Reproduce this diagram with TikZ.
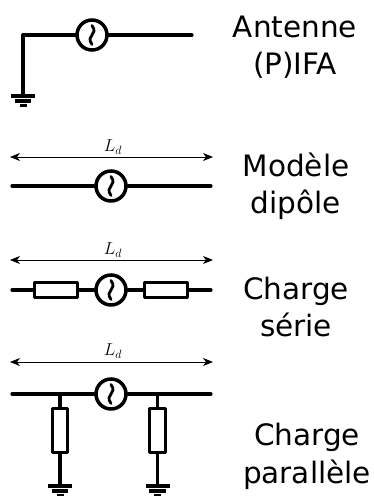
\documentclass[tikz,border=0pt]{standalone}
\usepackage{amsmath}
\usepackage{fontspec}
\setmainfont{DejaVu Sans}
\usetikzlibrary{arrows.meta}

\tikzset{
  wire/.style={line width=3.2pt,line cap=round,line join=round},
  dim/.style={{Stealth[length=10pt,width=8pt,inset=3pt]}-{Stealth[length=10pt,width=8pt,inset=3pt]},line width=0.9pt},
  gen/.style={circle,draw,line width=3.5pt,fill=white,inner sep=0pt,minimum size=30pt,
    path picture={\draw[line width=2.8pt,line cap=round]
      ([yshift=9.5pt]path picture bounding box.center)
      .. controls +(7,10) and +(-7,-10) .. ([yshift=-9.5pt]path picture bounding box.center);}},
  resh/.style={rectangle,draw,line width=3.4pt,line join=round,fill=white,inner sep=0pt,minimum width=43.5pt,minimum height=15.5pt},
  resv/.style={rectangle,draw,line width=3.4pt,line join=round,fill=white,inner sep=0pt,minimum width=15.5pt,minimum height=43.5pt},
  title/.style={align=center,font=\fontsize{29.5}{37.5}\selectfont},
  len/.style={font=\fontsize{17.28}{20}\selectfont,inner sep=0pt},
  ground/.pic={
    \draw[line width=3.6pt] (-12,0) -- (12,0);
    \draw[line width=3.6pt] (-8.3,4.8) -- (8.3,4.8);
    \draw[line width=3.6pt] (-3.5,9.6) -- (3.5,9.6);
  }
}

\begin{document}
\begin{tikzpicture}[x=1pt,y=-1pt]
  \useasboundingbox (0,0) rectangle (373,496);

  % Antenne (P)IFA
  \node[gen] (g1) at (92,35) {};
  \coordinate (c1) at (23,35);
  \coordinate (e1) at (192,35);
  \coordinate (t1) at (23,96);
  \draw[wire] (t1) -- (c1) -- (g1) -- (e1);
  \pic at (t1) {ground};
  \node[title] (n1) at (295,47) {Antenne\\(P)IFA};

  % Modele dipole
  \coordinate (a2) at (10,157);
  \coordinate (b2) at (213,157);
  \draw[dim] (a2) -- (b2);
  \node[len] (l2) at (113,147) {$L_d$};
  \node[gen] (g2) at (111,186) {};
  \coordinate (w2) at (12,186);
  \coordinate (e2) at (211,186);
  \draw[wire] (w2) -- (g2) -- (e2);
  \node[title] (n2) at (296,186.5) {Modèle\\dipôle};

  % Charge serie
  \coordinate (a3) at (10,260);
  \coordinate (b3) at (213,260);
  \draw[dim] (a3) -- (b3);
  \node[len] (l3) at (113,250) {$L_d$};
  \node[gen] (g3) at (111,290) {};
  \node[resh] (r3) at (56,290) {};
  \node[resh] (s3) at (166,290) {};
  \coordinate (w3) at (12,290);
  \coordinate (e3) at (211,290);
  \draw[wire] (w3) -- (r3) -- (g3) -- (s3) -- (e3);
  \node[title] (n3) at (296,307) {Charge\\série};

  % Charge parallele
  \coordinate (a4) at (10,362);
  \coordinate (b4) at (213,362);
  \draw[dim] (a4) -- (b4);
  \node[len] (l4) at (113,351) {$L_d$};
  \node[gen] (g4) at (111,394) {};
  \coordinate (w4) at (12,394);
  \coordinate (e4) at (211,394);
  \draw[wire] (w4) -- (g4) -- (e4);
  \node[resv] (r4) at (60,430.5) {};
  \node[resv] (s4) at (157.5,430.5) {};
  \coordinate (p4) at (60,394);
  \coordinate (q4) at (157.5,394);
  \coordinate (t4) at (60,486);
  \coordinate (u4) at (157.5,486);
  \draw[wire] (p4) -- (r4) -- (t4);
  \draw[wire] (q4) -- (s4) -- (u4);
  \pic at (t4) {ground};
  \pic at (u4) {ground};
  \node[title] (n4) at (307,456.5) {Charge\\parallèle};
\end{tikzpicture}
\end{document}
